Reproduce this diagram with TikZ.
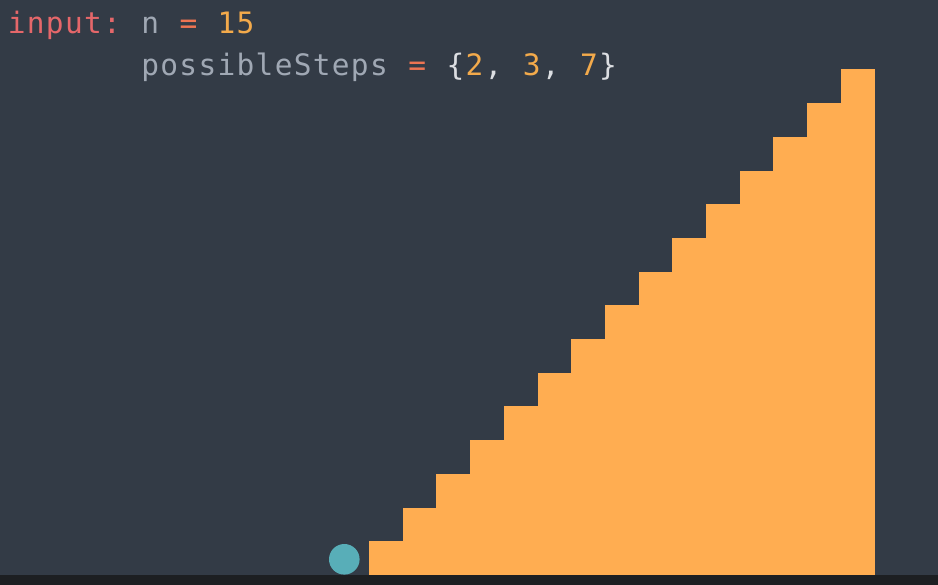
\documentclass[tikz,border=0pt]{standalone}
\usepackage{fontspec}
\usetikzlibrary{calc}
\newfontfamily\codefont[LetterSpace=4.4]{DejaVu Sans Mono}
\definecolor{bgslate}{HTML}{333B46}
\definecolor{bgstrip}{HTML}{1D1F22}
\definecolor{stairorange}{HTML}{FFAD51}
\definecolor{ballteal}{HTML}{58AEB8}
\definecolor{kwred}{HTML}{E5676A}
\definecolor{idgray}{HTML}{A0A8B4}
\definecolor{oporange}{HTML}{EE7452}
\definecolor{numorange}{HTML}{F3AA4B}
\definecolor{punctwhite}{HTML}{DCDEE2}

\begin{document}
\begin{tikzpicture}[
  x=1pt,
  y=-1pt,
  stair/.style={fill=stairorange},
  ball/.style={fill=ballteal},
  src/.style={anchor=base west, inner sep=0pt, font=\codefont\fontsize{29.5}{36}\selectfont},
  kw/.style={src, color=kwred},
  ident/.style={src, color=idgray},
  oper/.style={src, color=oporange},
  numb/.style={src, color=numorange},
  punct/.style={src, color=punctwhite}
  ]
    % Background
    \useasboundingbox (0,0) rectangle (938,585);
    \fill[bgslate] (0,0) rectangle (938,585);
    \fill[bgstrip] (0,575) rectangle (938,585);

    \coordinate (lineone) at (7.7,33.3);
    \coordinate (linetwo) at (7.7,75.5);
%una colonna = 19.07

\node[kw] (input) at (lineone) {input:};
\node[ident] (n) at ($(lineone)+(133.5,0)$) {n};
\node[oper] (eqn) at ($(lineone)+(171.6,0)$) {=};
\node[numb] (fifteen) at ($(lineone)+(209.8,0)$) {15};

\node[ident] (steps) at ($(linetwo)+(133.5,0)$) {possibleSteps};
\node[oper] (eqsteps) at ($(linetwo)+(400.5,0)$) {=};
\node[punct] (lbrace) at ($(linetwo)+(438.6,0)$) {\{};
\node[numb] (two) at ($(linetwo)+(457.7,0)$) {2};
\node[punct] (commaone) at ($(linetwo)+(476.8,0)$) {,};
\node[numb] (three) at ($(linetwo)+(514.9,0)$) {3};
\node[punct] (commatwo) at ($(linetwo)+(534.0,0)$) {,};
\node[numb] (seven) at ($(linetwo)+(572.1,0)$) {7};
\node[punct] (rbrace) at ($(linetwo)+(591.2,0)$) {\}};

%scala - 15 gradini, 33.7 ognuno
\fill[stair] (369.0,575) rectangle (874.5,541.3);
\fill[stair] (402.7,575) rectangle (874.5,507.6);
\fill[stair] (436.4,575) rectangle (874.5,473.9);
\fill[stair] (470.1,575) rectangle (874.5,440.2);
\fill[stair] (503.8,575) rectangle (874.5,406.5);
\fill[stair] (537.5,575) rectangle (874.5,372.8);
\fill[stair] (571.2,575) rectangle (874.5,339.1);
\fill[stair] (604.9,575) rectangle (874.5,305.4);
\fill[stair] (638.6,575) rectangle (874.5,271.7);
\fill[stair] (672.3,575) rectangle (874.5,238.0);
\fill[stair] (706.0,575) rectangle (874.5,204.3);
\fill[stair] (739.7,575) rectangle (874.5,170.6);
\fill[stair] (773.4,575) rectangle (874.5,136.9);
\fill[stair] (807.1,575) rectangle (874.5,103.2);
\fill[stair] (840.8,575) rectangle (874.5,69.5);

%pallina
\fill[ball] (344.3,559.3) circle (15.3);

\end{tikzpicture}
\end{document}
